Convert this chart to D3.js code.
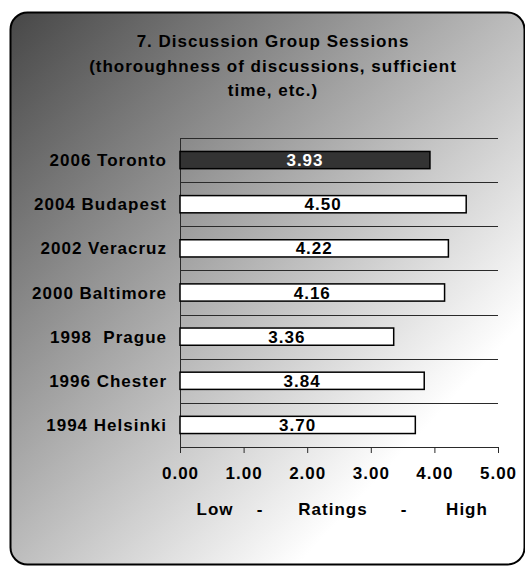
<!DOCTYPE html>
<html>
<head>
<meta charset="utf-8">
<style>
  body { margin: 0; background: #fff; }
  text { font-family: "Liberation Sans", Arial, sans-serif; font-weight: bold; font-size: 17px; letter-spacing: 1px; fill: #000; }
</style>
</head>
<body>
<script src="https://cdn.jsdelivr.net/npm/d3@7"></script>
<script>

var titleLines = ["7. Discussion Group Sessions", "(thoroughness of discussions, sufficient", "time, etc.)"];
var meetings = ["2006 Toronto", "2004 Budapest", "2002 Veracruz", "2000 Baltimore", "1998  Prague", "1996 Chester", "1994 Helsinki"];
var ratings = [3.93, 4.50, 4.22, 4.16, 3.36, 3.84, 3.70];
var xTicks = [0, 1, 2, 3, 4, 5];
var axisTitleParts = ["Low", "-", "Ratings", "-", "High"];
var axisTitleX = [35, 80, 153, 224, 287];   // centre of each part, px from plot left

var W = 525, H = 567;
var margin = {top: 138, left: 180},
    width = 318,
    height = 309;

var svg = d3.select("body").append("svg")
    .attr("width", W)
    .attr("height", H);

var grad = svg.append("defs").append("linearGradient")
    .attr("id", "bg")
    .attr("x1", 0).attr("y1", 0).attr("x2", 1).attr("y2", 1);
grad.append("stop").attr("offset", 0).attr("stop-color", "#474747");
grad.append("stop").attr("offset", 0.78).attr("stop-color", "#ffffff");

svg.append("rect")
    .attr("x", 10.5)
    .attr("y", 12.5)
    .attr("width", 514)
    .attr("height", 552)
    .attr("rx", 17)
    .attr("fill", "url(#bg)")
    .attr("stroke", "#000")
    .attr("stroke-width", 2);

svg.append("g").selectAll("text")
    .data(titleLines)
  .enter().append("text")
    .attr("x", 273)
    .attr("y", function(d, i) { return 47 + i * 24.5; })
    .attr("text-anchor", "middle")
    .text(function(d) { return d; });

var x = d3.scaleLinear()
    .domain([0, 5])
    .range([0, width]);

var y = d3.scaleBand()
    .domain(meetings)
    .range([0, height])
    .paddingInner(0.61)
    .paddingOuter(0.305);

var g = svg.append("g")
    .attr("transform", "translate(" + margin.left + "," + margin.top + ")");

// gridlines between categories
var step = y.step();
g.selectAll(".grid")
    .data(d3.range(meetings.length))
  .enter().append("line")
    .attr("class", "grid")
    .attr("x1", 0)
    .attr("x2", width)
    .attr("y1", function(d) { return Math.round(d * step) + 0.5; })
    .attr("y2", function(d) { return Math.round(d * step) + 0.5; })
    .attr("stroke", "#2a2a2a")
    .attr("stroke-width", 1);

var xAxis = d3.axisBottom(x)
    .tickValues(xTicks)
    .tickSize(6)
    .tickSizeOuter(0)
    .tickFormat(d3.format(".2f"));

var ax = g.append("g")
    .attr("transform", "translate(0," + height + ")")
    .call(xAxis);
ax.select(".domain").attr("stroke", "#2a2a2a");
ax.selectAll(".tick line").attr("stroke", "#2a2a2a");
ax.selectAll(".tick text")
    .attr("y", 32)
    .attr("dy", 0)
    .attr("fill", "#000")
    .style("font-size", "17px")
    .style("font-family", "'Liberation Sans', Arial, sans-serif");

g.append("line")
    .attr("x1", 0.5).attr("x2", 0.5)
    .attr("y1", 0).attr("y2", height)
    .attr("stroke", "#2a2a2a");

g.selectAll(".bar")
    .data(ratings)
  .enter().append("rect")
    .attr("class", "bar")
    .attr("x", x(0))
    .attr("y", function(d, i) { return y(meetings[i]); })
    .attr("width", function(d) { return x(d); })
    .attr("height", y.bandwidth())
    .attr("fill", function(d, i) { return i === 0 ? "#333333" : "#ffffff"; })
    .attr("stroke", "#000")
    .attr("stroke-width", 1.5);

g.selectAll(".val")
    .data(ratings)
  .enter().append("text")
    .attr("class", "val")
    .attr("x", function(d) { return x(d) / 2; })
    .attr("y", function(d, i) { return y(meetings[i]) + y.bandwidth() / 2; })
    .attr("dy", "0.36em")
    .attr("text-anchor", "middle")
    .style("fill", function(d, i) { return i === 0 ? "#fff" : "#000"; })
    .text(function(d) { return d.toFixed(2); });

g.selectAll(".lab")
    .data(meetings)
  .enter().append("text")
    .attr("class", "lab")
    .attr("x", -13)
    .attr("y", function(d) { return y(d) + y.bandwidth() / 2; })
    .attr("dy", "0.36em")
    .attr("text-anchor", "end")
    .style("white-space", "pre")
    .text(function(d) { return d; });

g.selectAll(".axtitle")
    .data(axisTitleParts)
  .enter().append("text")
    .attr("class", "axtitle")
    .attr("x", function(d, i) { return axisTitleX[i]; })
    .attr("y", height + 68)
    .attr("text-anchor", "middle")
    .text(function(d) { return d; });

</script>
</body>
</html>
